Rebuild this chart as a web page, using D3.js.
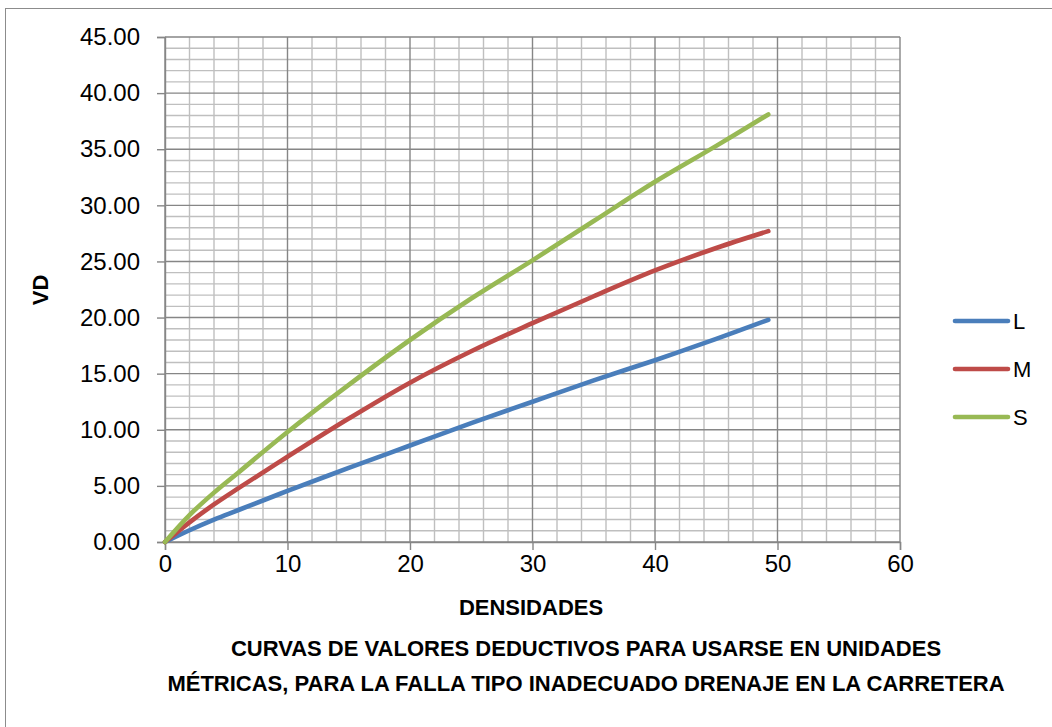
<!DOCTYPE html>
<html>
<head>
<meta charset="utf-8">
<script src="https://cdn.jsdelivr.net/npm/d3@7"></script>
<style>
  html, body { margin: 0; padding: 0; background: #fff; }
  svg text { font-family: "Liberation Sans", Arial, sans-serif; fill: #000; }
</style>
</head>
<body>
<svg id="chart" width="1052" height="727"></svg>
<script>
// Densidad (%) sample points shared by the three severity curves
const densidades = [0, 2, 4, 6, 10, 15, 20, 25, 30, 35, 40, 45, 49.25];
// Valores deductivos por severidad
const vdL = [0, 1.05, 2.0, 2.85, 4.55, 6.6, 8.6, 10.6, 12.5, 14.4, 16.2, 18.1, 19.8];
const vdM = [0, 1.75, 3.35, 4.8, 7.6, 11.0, 14.2, 17.0, 19.5, 21.9, 24.2, 26.2, 27.7];
const vdS = [0, 2.4, 4.4, 6.2, 9.8, 14.0, 18.0, 21.7, 25.1, 28.6, 32.1, 35.3, 38.1];
const seriesNames = ["L", "M", "S"];
const seriesColors = ["#4A7EBB", "#BE4B48", "#98B954"];
const xTicks = [0, 10, 20, 30, 40, 50, 60];
const yTicks = [0, 5, 10, 15, 20, 25, 30, 35, 40, 45];

const svg = d3.select("#chart");

// chart frame
svg.append("rect")
  .attr("x", 5.5).attr("y", 8.5)
  .attr("width", 1052).attr("height", 730)
  .attr("fill", "none").attr("stroke", "#8c8c8c").attr("stroke-width", 1);

const plot = { left: 165, right: 900, top: 37, bottom: 542 };
const x = d3.scaleLinear().domain([0, 60]).range([plot.left, plot.right]);
const y = d3.scaleLinear().domain([0, 45]).range([plot.bottom, plot.top]);

const grid = svg.append("g");
// minor grid
d3.range(0, 61, 2).filter(v => v % 10 !== 0).forEach(v => {
  grid.append("line").attr("x1", x(v)).attr("x2", x(v)).attr("y1", plot.top).attr("y2", plot.bottom)
    .attr("stroke", "#bfbfbf").attr("stroke-width", 1.4);
});
d3.range(0, 46, 1).filter(v => v % 5 !== 0).forEach(v => {
  grid.append("line").attr("x1", plot.left).attr("x2", plot.right).attr("y1", y(v)).attr("y2", y(v))
    .attr("stroke", "#bfbfbf").attr("stroke-width", 1.4);
});
// major grid
xTicks.forEach(v => {
  grid.append("line").attr("x1", x(v)).attr("x2", x(v)).attr("y1", plot.top).attr("y2", plot.bottom)
    .attr("stroke", "#868686").attr("stroke-width", 1.4);
});
yTicks.forEach(v => {
  grid.append("line").attr("x1", plot.left).attr("x2", plot.right).attr("y1", y(v)).attr("y2", y(v))
    .attr("stroke", "#868686").attr("stroke-width", 1.4);
});

// axes
const xAxis = svg.append("g").attr("transform", `translate(0,${plot.bottom})`)
  .call(d3.axisBottom(x).tickValues(xTicks).tickSize(8).tickPadding(5).tickFormat(d3.format("d")));
const yAxis = svg.append("g").attr("transform", `translate(${plot.left},0)`)
  .call(d3.axisLeft(y).tickValues(yTicks).tickSize(8).tickPadding(17).tickFormat(d3.format(".2f")));
[xAxis, yAxis].forEach(a => {
  a.select(".domain").attr("stroke", "#868686").attr("stroke-width", 1.4);
  a.selectAll(".tick line").attr("stroke", "#868686").attr("stroke-width", 1.4);
  a.selectAll("text").attr("font-size", 24).attr("font-family", "Liberation Sans, Arial, sans-serif");
});

// curves
const seriesValues = [vdL, vdM, vdS];
const line = d3.line().x(d => x(d[0])).y(d => y(d[1])).curve(d3.curveCatmullRom);
seriesValues.forEach((vals, i) => {
  svg.append("path")
    .datum(densidades.map((d, j) => [d, vals[j]]))
    .attr("d", line)
    .attr("fill", "none")
    .attr("stroke", seriesColors[i])
    .attr("stroke-width", 4.6)
    .attr("stroke-linecap", "round")
    .attr("stroke-linejoin", "round");
});

// legend
const legend = svg.append("g");
seriesNames.forEach((name, i) => {
  const ly = 321 + i * 48;
  legend.append("line").attr("x1", 955).attr("x2", 1008).attr("y1", ly).attr("y2", ly)
    .attr("stroke", seriesColors[i]).attr("stroke-width", 4.6).attr("stroke-linecap", "round");
  legend.append("text").attr("x", 1013).attr("y", ly + 8).attr("font-size", 22).text(name);
});

// axis titles
svg.append("text")
  .attr("transform", "translate(48,290) rotate(-90)")
  .attr("text-anchor", "middle").attr("font-weight", "bold").attr("font-size", 22)
  .text("VD");
svg.append("text")
  .attr("x", 531).attr("y", 615)
  .attr("text-anchor", "middle").attr("font-weight", "bold").attr("font-size", 22)
  .text("DENSIDADES");
const titleLines = [
  "CURVAS DE VALORES DEDUCTIVOS PARA USARSE EN UNIDADES",
  "MÉTRICAS, PARA LA FALLA TIPO INADECUADO DRENAJE EN LA CARRETERA"
];
titleLines.forEach((t, i) => {
  svg.append("text")
    .attr("x", 586).attr("y", 656 + i * 35)
    .attr("text-anchor", "middle").attr("font-weight", "bold").attr("font-size", 22)
    .text(t);
});
</script>
</body>
</html>
